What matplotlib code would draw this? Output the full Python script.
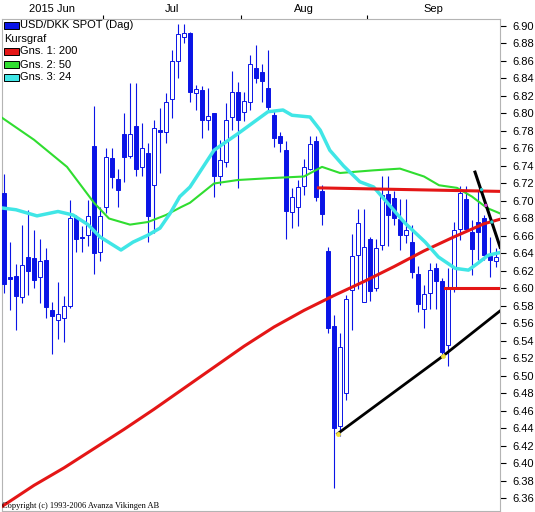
import numpy as np
import pandas as pd
import matplotlib
matplotlib.use("Agg")
import matplotlib.pyplot as plt
from matplotlib.patches import Rectangle

plt.rcParams["font.family"] = ["Liberation Sans", "DejaVu Sans"]

# one candle per trading day, 2015-06-08 .. 2015-09-30
dates = pd.bdate_range("2015-06-08", "2015-09-30")

opens = [6.709, 6.613, 6.614, 6.590, 6.636, 6.635, 6.613, 6.633, 6.575, 6.564,
         6.566, 6.580, 6.682, 6.659, 6.661, 6.763, 6.642, 6.693, 6.749, 6.725,
         6.776, 6.751, 6.786, 6.739, 6.755, 6.718, 6.781, 6.779, 6.817, 6.860,
         6.887, 6.892, 6.823, 6.827, 6.793, 6.800, 6.728, 6.745, 6.796, 6.824,
         6.802, 6.813, 6.852, 6.847, 6.829, 6.798, 6.774, 6.758, 6.687, 6.693,
         6.717, 6.737, 6.769, 6.711, 6.643, 6.557, 6.443, 6.480, 6.598, 6.638,
         6.585, 6.657, 6.600, 6.650, 6.708, 6.703, 6.679, 6.661, 6.653, 6.617,
         6.577, 6.595, 6.623, 6.609, 6.535, 6.601, 6.668, 6.702, 6.665, 6.676,
         6.680, 6.637, 6.631]
highs = [6.731, 6.653, 6.628, 6.673, 6.690, 6.667, 6.656, 6.646, 6.585, 6.607,
         6.591, 6.701, 6.684, 6.671, 6.701, 6.809, 6.693, 6.760, 6.760, 6.737,
         6.800, 6.835, 6.835, 6.789, 6.766, 6.793, 6.806, 6.823, 6.873, 6.902,
         6.902, 6.893, 6.833, 6.831, 6.829, 6.801, 6.770, 6.812, 6.849, 6.836,
         6.825, 6.867, 6.878, 6.857, 6.873, 6.804, 6.779, 6.768, 6.715, 6.724,
         6.748, 6.774, 6.774, 6.718, 6.647, 6.570, 6.549, 6.593, 6.662, 6.691,
         6.691, 6.659, 6.657, 6.729, 6.729, 6.711, 6.702, 6.702, 6.673, 6.626,
         6.604, 6.629, 6.629, 6.612, 6.623, 6.676, 6.717, 6.717, 6.678, 6.711,
         6.684, 6.659, 6.646]
lows = [6.595, 6.575, 6.553, 6.583, 6.593, 6.600, 6.583, 6.566, 6.525, 6.542,
        6.539, 6.578, 6.642, 6.642, 6.648, 6.617, 6.631, 6.686, 6.715, 6.693,
        6.722, 6.749, 6.728, 6.728, 6.653, 6.663, 6.732, 6.766, 6.795, 6.840,
        6.880, 6.813, 6.804, 6.772, 6.781, 6.705, 6.718, 6.739, 6.781, 6.715,
        6.791, 6.804, 6.835, 6.813, 6.804, 6.762, 6.756, 6.656, 6.669, 6.671,
        6.707, 6.735, 6.700, 6.673, 6.549, 6.372, 6.431, 6.473, 6.553, 6.599,
        6.584, 6.586, 6.597, 6.644, 6.648, 6.673, 6.644, 6.652, 6.612, 6.573,
        6.555, 6.577, 6.577, 6.522, 6.511, 6.596, 6.655, 6.667, 6.615, 6.633,
        6.633, 6.613, 6.624]
closes = [6.605, 6.611, 6.591, 6.627, 6.620, 6.610, 6.631, 6.579, 6.568, 6.571,
          6.580, 6.681, 6.657, 6.658, 6.683, 6.640, 6.683, 6.750, 6.727, 6.713,
          6.750, 6.777, 6.736, 6.761, 6.683, 6.783, 6.779, 6.813, 6.860, 6.891,
          6.892, 6.824, 6.828, 6.793, 6.797, 6.728, 6.747, 6.793, 6.824, 6.793,
          6.814, 6.857, 6.841, 6.837, 6.807, 6.772, 6.766, 6.689, 6.704, 6.716,
          6.739, 6.765, 6.705, 6.685, 6.555, 6.441, 6.533, 6.588, 6.637, 6.675,
          6.647, 6.597, 6.646, 6.707, 6.684, 6.681, 6.661, 6.667, 6.619, 6.582,
          6.594, 6.621, 6.608, 6.527, 6.601, 6.667, 6.709, 6.668, 6.645, 6.664,
          6.638, 6.633, 6.636]

# moving averages (candle position, value)
ma200_x = [-0.3, 5, 10, 15, 20, 25, 30, 35, 40, 45, 50, 55, 60, 65, 70, 75, 80, 82.6]
ma200_y = [6.351, 6.375, 6.395, 6.417, 6.439, 6.462, 6.486, 6.510, 6.534, 6.556,
           6.575, 6.592, 6.608, 6.625, 6.643, 6.659, 6.674, 6.679]
ma50_x = [-0.3, 5, 10.5, 15, 17.5, 21, 24, 27, 29.5, 31, 35, 39, 44, 50, 53, 56,
          61.5, 66, 70, 72.5, 75.5, 78, 80.5, 82.6]
ma50_y = [6.795, 6.770, 6.739, 6.698, 6.680, 6.673, 6.676, 6.684, 6.693, 6.698,
          6.720, 6.724, 6.726, 6.728, 6.739, 6.732, 6.735, 6.737, 6.728, 6.718,
          6.715, 6.705, 6.692, 6.686]
ma24_x = [-0.3, 2, 5.5, 9, 11.5, 14, 16, 19.5, 21.5, 24, 26, 27.7, 29.3, 31, 35,
          39, 44, 46.5, 48, 51, 52.7, 54.3, 56.6, 59.3, 61.6, 65.4, 66.8, 70.2,
          72.4, 75.2, 77.4, 79, 80.7, 82.6]
ma24_y = [6.692, 6.690, 6.683, 6.688, 6.684, 6.673, 6.659, 6.644, 6.653, 6.661,
          6.669, 6.686, 6.705, 6.716, 6.758, 6.777, 6.802, 6.804, 6.798, 6.796,
          6.781, 6.758, 6.740, 6.722, 6.716, 6.686, 6.675, 6.653, 6.636, 6.623,
          6.621, 6.629, 6.638, 6.641]

# hand drawn lines
res_x, res_y = [52.4, 82.6], [6.715, 6.711]
sup_x, sup_y = [73.5, 82.6], [6.601, 6.601]
trend_x, trend_y = [55.6, 73.2, 82.6], [6.434, 6.523, 6.574]
fall_x, fall_y = [78.5, 82.7], [6.733, 6.647]
# crossing markers on the falling line
cross_x, cross_y = [79.6, 80.3, 81.3], [6.713, 6.695, 6.676]
cross_c = ["#30d0d0", "#d040d0", "#30d0d0"]

BLUE = "#0a14e6"
RED = "#e41616"
GREEN = "#30dd30"
CYAN = "#40e6e6"

W, H = 535, 512
fig = plt.figure(figsize=(W / 100, H / 100), dpi=100)
ax = fig.add_axes([2 / W, 1 - 511 / H, 497.5 / W, 492 / H])

x = np.arange(len(opens))
o = np.array(opens)
c = np.array(closes)
up = c >= o

ax.vlines(x, lows, highs, color=BLUE, lw=0.8, zorder=2)
ax.bar(x[~up], (o - c)[~up], bottom=c[~up], width=0.72,
       color=BLUE, edgecolor=BLUE, lw=0.7, zorder=3)
ax.bar(x[up], (c - o)[up], bottom=o[up], width=0.72,
       facecolor="white", edgecolor=BLUE, lw=0.7, zorder=3)

ax.plot(ma200_x, ma200_y, color=RED, lw=2.2, zorder=4)
ax.plot(ma50_x, ma50_y, color=GREEN, lw=1.5, zorder=4)
ax.plot(ma24_x, ma24_y, color=CYAN, lw=2.5, zorder=4)

ax.plot(res_x, res_y, color=RED, lw=2.2, zorder=5)
ax.plot(sup_x, sup_y, color=RED, lw=2.2, zorder=5)
ax.plot(trend_x, trend_y, color="black", lw=2.0, zorder=5)
ax.plot(fall_x, fall_y, color="black", lw=2.2, zorder=5)
ax.plot([trend_x[0], trend_x[1]], [trend_y[0], trend_y[1]], ls="none",
        marker="o", ms=2.5, mfc="#f0e040", mec="#f0e040", zorder=6)
ax.scatter(cross_x, cross_y, s=6, c=cross_c, zorder=6, linewidths=0)

ax.set_xlim(-0.33, 82.58)
ax.set_ylim(6.3457, 6.908)

# price axis on the right
ax.yaxis.tick_right()
yt = np.arange(6.36, 6.905, 0.02)
ax.set_yticks(yt)
ax.set_yticklabels(["%.2f" % v for v in yt])
ax.tick_params(axis="y", direction="out", length=4.5, width=0.8, pad=4.5,
               labelsize=8, colors="black")

# months along the top
month = dates.month
bounds = [i - 0.5 for i in range(1, len(dates)) if month[i] != month[i - 1]]
edges = [-0.5] + bounds + [len(dates) - 0.5]
centers = [(edges[k] + edges[k + 1]) / 2 for k in range(len(edges) - 1)]
starts = [0] + [int(b + 0.5) for b in bounds]
mlabels = [dates[s].strftime("%b") for s in starts]
mlabels[0] = "2015 " + mlabels[0]
ax.xaxis.tick_top()
ax.set_xticks(bounds)
ax.set_xticklabels([""] * len(bounds))
ax.set_xticks(centers, minor=True)
ax.set_xticklabels(mlabels, minor=True)
ax.tick_params(axis="x", which="major", direction="out", length=3, width=0.8,
               colors="black")
ax.tick_params(axis="x", which="minor", length=0, pad=3.5, labelsize=8)

for s in ax.spines.values():
    s.set_color("#b4b4b4")
    s.set_linewidth(0.8)

# legend in the upper left corner
def fx(px):
    return px / W

def fy(py):
    return 1 - py / H

rows = [("USD/DKK SPOT (Dag)", BLUE, 25),
        ("Kursgraf", None, 38.5),
        ("Gns. 1: 200", RED, 51.5),
        ("Gns. 2: 50", GREEN, 64.5),
        ("Gns. 3: 24", CYAN, 77.5)]
for label, col, yy in rows:
    if col is None:
        fig.text(fx(4), fy(yy), label, fontsize=8, va="center", ha="left")
        continue
    fig.patches.append(Rectangle((fx(4), fy(yy + 3.5)), 15 / W, 7 / H,
                                 transform=fig.transFigure, facecolor=col,
                                 edgecolor="black", lw=0.7, zorder=10))
    fig.text(fx(20.5), fy(yy), label, fontsize=8, va="center", ha="left")

fig.text(fx(2), fy(508), "Copyright (c) 1993-2006 Avanza Vikingen AB",
         family=["Liberation Serif", "DejaVu Serif"], fontsize=6, va="baseline")

fig.savefig("out.png", dpi=100)
